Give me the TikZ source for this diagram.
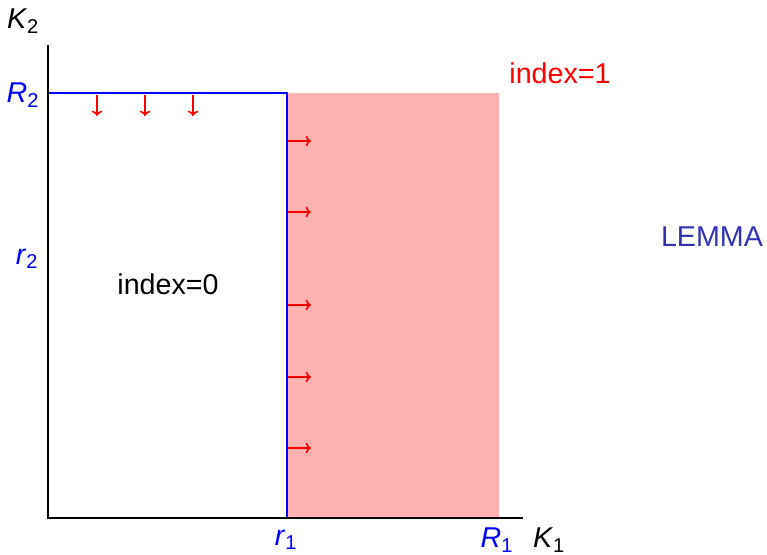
\documentclass[tikz,border=0pt]{standalone}
\usepackage{fontspec}
\setmainfont{Liberation Sans}
\usetikzlibrary{positioning,arrows.meta}
\definecolor{lemmablue}{RGB}{50,50,180}
\definecolor{regionpink}{RGB}{255,178,178}
\newcommand{\sym}[2]{\textit{#1}\textsubscript{#2}}
\tikzset{
  lab/.style   = {inner sep=0pt, font=\fontsize{21.5}{25}\selectfont},
  bluelab/.style = {lab, text=blue},
  axis/.style  = {line width=1.5pt, black},
  edge/.style  = {line width=1.5pt, blue},
  flag/.style  = {red, line width=1.2pt, -{To[length=4pt,width=8pt]}},
}
\begin{document}
\begin{tikzpicture}[x=0.75pt, y=-0.75pt]
  \useasboundingbox (0,0) rectangle (767,555);

  % corners
  \coordinate (O)  at (48,518);
  \coordinate (ytop) at (48,45);
  \coordinate (xend) at (523,518);
  \coordinate (r1) at (287,518);
  \coordinate (R1) at (499,518);
  \coordinate (R2) at (48,93);
  \coordinate (c)  at (287,93);

  % shaded region index=1
  \fill[regionpink] (c) rectangle (R1);

  % boundary of the index=0 box
  \draw[edge] (O) -- (R2) -- (c) -- (r1) -- cycle;

  % axes
  \draw[axis] (ytop) -- (O) -- (xend);

  % axis labels
  \node[lab] (k2) at (23,21) {\sym{K}{2}};
  \node[lab] (k1) at (549,540) {\sym{K}{1}};
  \node[bluelab] (lR2) at (23,95) {\sym{R}{2}};
  \node[bluelab] (lr2) at (27,259) {\sym{r}{2}};
  \node[bluelab] (lr1) at (286,540) {\sym{r}{1}};
  \node[bluelab] (lR1) at (497,540) {\sym{R}{1}};

  % region labels
  \node[lab] (idx0) at (168,284) {index=0};
  \node[lab, text=red] (idx1) at (560,73) {index=1};
  \node[lab, text=lemmablue] (lemma) at (712,237) {LEMMA};

  % flow arrows
  \foreach \x in {97,145,193}
    \draw[flag] (\x,95) -- ++(0,21);
  \foreach \y in {141,212,305,377,448}
    \draw[flag] (288,\y) -- ++(23,0);
\end{tikzpicture}
\end{document}
